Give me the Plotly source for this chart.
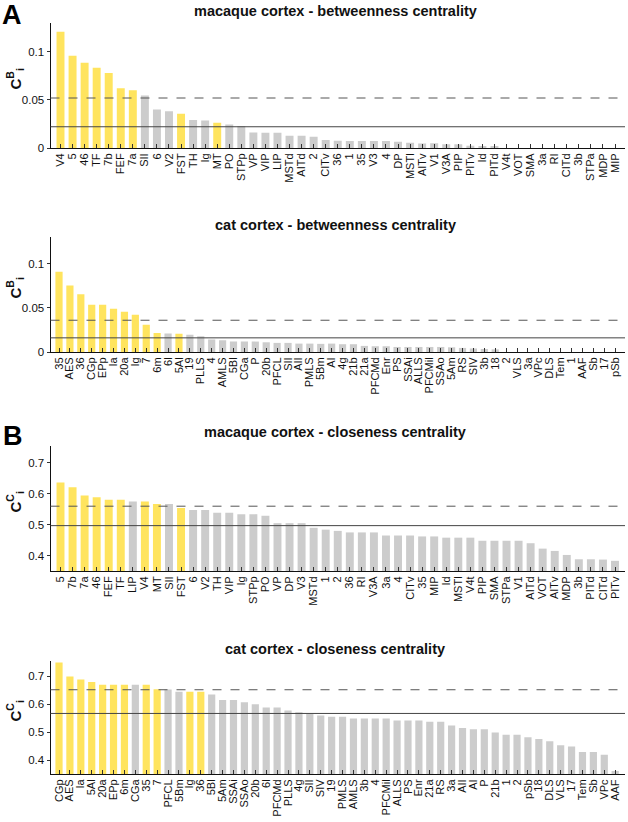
import plotly.graph_objects as go

W, H = 628, 822

# ---------------- data ----------------
mac_btw_areas = ["V4", "5", "46", "TF", "7b", "FEF", "7a", "SII", "6", "V2", "FST", "TH", "Ig", "MT", "PO",
                 "STPp", "VP", "VIP", "LIP", "MSTd", "AITd", "2", "CITv", "36", "1", "35", "V3", "4", "DP",
                 "MSTl", "AITv", "V1", "V3A", "PIP", "PITv", "Id", "PITd", "V4t", "VOT", "SMA", "3a", "RI",
                 "CITd", "3b", "STPa", "MDP", "MIP"]
mac_btw_values = [0.121, 0.0959, 0.0886, 0.0834, 0.0779, 0.0621, 0.060, 0.0545, 0.040, 0.0383, 0.0355,
                  0.029, 0.0286, 0.0262, 0.0245, 0.023, 0.0162, 0.0159, 0.0159, 0.0128, 0.0128, 0.0117,
                  0.0083, 0.0076, 0.0072, 0.0072, 0.0072, 0.0072, 0.0066, 0.0055, 0.0048, 0.005, 0.0038,
                  0.004, 0.0024, 0.002, 0.0017, 0.0, 0.0, 0.0, 0.0, 0.0, 0.0, 0.0, 0.0, 0.0, 0.0]
mac_btw_hubs = ["V4", "5", "46", "TF", "7b", "FEF", "7a", "FST", "MT"]
mac_btw_mean_plus_sd = 0.052
mac_btw_mean = 0.0221

cat_btw_areas = ["35", "AES", "36", "CGp", "EPp", "Ia", "20a", "Ig", "7", "6m", "6l", "5Al", "19", "PLLS",
                 "4", "AMLS", "5Bl", "CGa", "P", "20b", "PFCL", "SII", "AII", "PMLS", "5Bm", "AI", "4g",
                 "21b", "21a", "PFCMd", "Enr", "PS", "SSAi", "ALLS", "PFCMil", "SSAo", "5Am", "RS", "SIV",
                 "3b", "18", "2", "VLS", "3a", "VPc", "DLS", "Tem", "1", "AAF", "Sb", "17", "pSb"]
cat_btw_values = [0.0908, 0.0752, 0.0653, 0.0534, 0.0534, 0.0489, 0.0454, 0.042, 0.0309, 0.0214, 0.021,
                  0.0206, 0.0195, 0.0179, 0.0141, 0.0134, 0.0118, 0.0118, 0.0118, 0.011, 0.0103, 0.0103,
                  0.0095, 0.0095, 0.0092, 0.0095, 0.0088, 0.0088, 0.0069, 0.0065, 0.0065, 0.0057, 0.0057,
                  0.0057, 0.0057, 0.0057, 0.0053, 0.0046, 0.004, 0.0034, 0.003, 0.0, 0.0, 0.0, 0.0, 0.0,
                  0.0, 0.0, 0.0, 0.0, 0.0, 0.0]
cat_btw_hubs = ["35", "AES", "36", "CGp", "EPp", "Ia", "20a", "Ig", "7", "6m", "5Al"]
cat_btw_mean_plus_sd = 0.0359
cat_btw_mean = 0.016

mac_clo_areas = ["5", "7b", "7a", "46", "FEF", "TF", "LIP", "V4", "MT", "SII", "FST", "6", "V2", "TH", "VIP",
                 "Ig", "STPp", "PO", "VP", "DP", "V3", "MSTd", "1", "2", "36", "RI", "V3A", "3a", "4", "CITv",
                 "35", "MIP", "Id", "MSTl", "V4t", "PIP", "SMA", "STPa", "V1", "AITd", "VOT", "AITv", "MDP",
                 "3b", "PITd", "CITd", "PITv"]
mac_clo_values = [0.637, 0.621, 0.595, 0.589, 0.581, 0.581, 0.575, 0.575, 0.567, 0.567, 0.554, 0.548, 0.548,
                  0.539, 0.539, 0.534, 0.534, 0.529, 0.505, 0.505, 0.505, 0.490, 0.484, 0.480, 0.475, 0.475,
                  0.475, 0.465, 0.465, 0.465, 0.462, 0.462, 0.458, 0.458, 0.458, 0.448, 0.448, 0.448, 0.448,
                  0.440, 0.4225, 0.415, 0.402, 0.388, 0.388, 0.387, 0.383]
mac_clo_hubs = ["5", "7b", "7a", "46", "FEF", "TF", "V4", "MT", "FST"]
mac_clo_mean_plus_sd = 0.560
mac_clo_mean = 0.497

cat_clo_areas = ["CGp", "AES", "Ia", "5Al", "20a", "EPp", "6m", "CGa", "35", "7", "PFCL", "5Bm", "Ig", "36",
                 "5Bl", "5Am", "SSAi", "SSAo", "20b", "6l", "PFCMd", "PLLS", "4g", "SII", "SIV", "19", "PMLS",
                 "AMLS", "3b", "4", "PFCMil", "ALLS", "PS", "Enr", "21a", "RS", "3a", "AII", "AI", "P", "21b",
                 "1", "2", "pSb", "18", "DLS", "VLS", "17", "Tem", "Sb", "VPc", "AAF"]
cat_clo_values = [0.750, 0.699, 0.689, 0.680, 0.670, 0.670, 0.670, 0.670, 0.670, 0.654, 0.653, 0.645, 0.645,
                  0.645, 0.635, 0.615, 0.615, 0.607, 0.600, 0.588, 0.588, 0.578, 0.571, 0.565, 0.560, 0.555,
                  0.555, 0.549, 0.549, 0.549, 0.549, 0.542, 0.542, 0.542, 0.537, 0.537, 0.524, 0.515, 0.510,
                  0.510, 0.499, 0.491, 0.491, 0.482, 0.475, 0.467, 0.453, 0.449, 0.429, 0.429, 0.419, 0.361]
cat_clo_hubs = ["CGp", "AES", "Ia", "5Al", "20a", "EPp", "6m", "35", "7", "Ig", "36"]
cat_clo_mean_plus_sd = 0.652
cat_clo_mean = 0.567

titles = ["macaque cortex - betweenness centrality", "cat cortex - betweenness centrality",
          "macaque cortex - closeness centrality", "cat cortex - closeness centrality"]
ylabels = ["C<sup>B</sup><sub>i</sub>", "C<sup>B</sup><sub>i</sub>",
           "C<sup>C</sup><sub>i</sub>", "C<sup>C</sup><sub>i</sub>"]

# ---------------- style ----------------
YELLOW = "#FFE45E"
GRAY = "#CCCCCC"
FONT = "Liberation Sans, Arial, sans-serif"

panels = [
    (mac_btw_areas, mac_btw_values, mac_btw_hubs, mac_btw_mean_plus_sd, mac_btw_mean),
    (cat_btw_areas, cat_btw_values, cat_btw_hubs, cat_btw_mean_plus_sd, cat_btw_mean),
    (mac_clo_areas, mac_clo_values, mac_clo_hubs, mac_clo_mean_plus_sd, mac_clo_mean),
    (cat_clo_areas, cat_clo_values, cat_clo_hubs, cat_clo_mean_plus_sd, cat_clo_mean),
]

# pixel layout: (top, bottom) of each plot area
px_y = [(23, 148), (237, 352), (446, 571), (661, 774)]
px_x = (50.5, 625)
title_y = [11, 225, 432, 649]
yranges = [[0, 0.13], [0, 0.13], [0.35, 0.755], [0.35, 0.755]]
xranges = [[-0.83, 46.83], [-0.78, 51.9], [-0.83, 46.83], [-0.78, 51.9]]
ytickvals = [[0, 0.05, 0.1], [0, 0.05, 0.1], [0.4, 0.5, 0.6, 0.7], [0.4, 0.5, 0.6, 0.7]]
yticktext = [["0", "0.05", "0.1"], ["0", "0.05", "0.1"], ["0.4", "0.5", "0.6", "0.7"], ["0.4", "0.5", "0.6", "0.7"]]

fig = go.Figure()
shapes = []
annotations = []
layout = {}

for k, (areas, vals, hubs, dash_v, solid_v) in enumerate(panels):
    idx = "" if k == 0 else str(k + 1)
    colors = [YELLOW if a in hubs else GRAY for a in areas]
    base = yranges[k][0]
    fig.add_trace(go.Bar(
        x=list(range(len(areas))), y=[v - base for v in vals], base=base,
        marker=dict(color=colors, line=dict(width=0)),
        width=0.66, xaxis="x" + idx, yaxis="y" + idx, showlegend=False,
        hoverinfo="skip",
    ))
    top, bot = px_y[k]
    layout["xaxis" + idx] = dict(
        domain=[px_x[0] / W, px_x[1] / W], anchor="y" + idx, automargin=False,
        range=xranges[k], tickmode="array", tickvals=list(range(len(areas))), ticktext=areas,
        tickangle=-90, ticks="inside", ticklen=4, tickwidth=1, tickcolor="#333",
        showline=True, linecolor="#111", linewidth=1, showgrid=False, zeroline=False,
        tickfont=dict(family=FONT, size=11, color="#111"), fixedrange=True,
    )
    layout["yaxis" + idx] = dict(
        domain=[1 - bot / H, 1 - top / H], anchor="x" + idx, automargin=False,
        range=yranges[k], tickmode="array", tickvals=ytickvals[k], ticktext=yticktext[k],
        ticks="outside", ticklen=3, tickwidth=1, tickcolor="#333",
        showline=True, linecolor="#111", linewidth=1, showgrid=False, zeroline=False,
        tickfont=dict(family=FONT, size=11.5, color="#111"), fixedrange=True,
    )
    xref = ("x" + idx) + " domain"
    yref = "y" + idx
    shapes.append(dict(type="line", xref=xref, yref=yref, x0=0, x1=1, y0=dash_v, y1=dash_v,
                       line=dict(color="#555", width=1, dash="dash"), layer="above"))
    shapes.append(dict(type="line", xref=xref, yref=yref, x0=0, x1=1, y0=solid_v, y1=solid_v,
                       line=dict(color="#444", width=1), layer="above"))
    annotations.append(dict(text="<b>" + titles[k] + "</b>", xref="paper", yref="paper",
                            x=335 / W, y=1 - title_y[k] / H, xanchor="center", yanchor="middle",
                            showarrow=False, font=dict(family=FONT, size=14.5, color="#111")))
    annotations.append(dict(text="<b>" + ylabels[k] + "</b>", xref="paper", yref="paper",
                            x=15 / W, y=1 - ((top + bot) / 2 - 6) / H, xanchor="center", yanchor="middle",
                            textangle=-90, showarrow=False, font=dict(family=FONT, size=15, color="#111")))

annotations.append(dict(text="<b>A</b>", xref="paper", yref="paper", x=12 / W, y=1 - 15 / H,
                        xanchor="center", yanchor="middle", showarrow=False,
                        font=dict(family=FONT, size=27, color="#000")))
annotations.append(dict(text="<b>B</b>", xref="paper", yref="paper", x=13 / W, y=1 - 436 / H,
                        xanchor="center", yanchor="middle", showarrow=False,
                        font=dict(family=FONT, size=27, color="#000")))

fig.update_layout(
    width=W, height=H, margin=dict(l=0, r=0, t=0, b=0, autoexpand=False),
    paper_bgcolor="white", plot_bgcolor="white",
    bargap=0.33, shapes=shapes, annotations=annotations,
    font=dict(family=FONT), **layout,
)

fig.write_html("out.html", config={"displayModeBar": False})

# remove the default page margin so the figure sits at the window's top-left corner
with open("out.html", encoding="utf-8") as f:
    html = f.read()
html = html.replace("<head>", "<head><style>html,body{margin:0;padding:0;overflow:hidden;}</style>", 1)
with open("out.html", "w", encoding="utf-8") as f:
    f.write(html)
